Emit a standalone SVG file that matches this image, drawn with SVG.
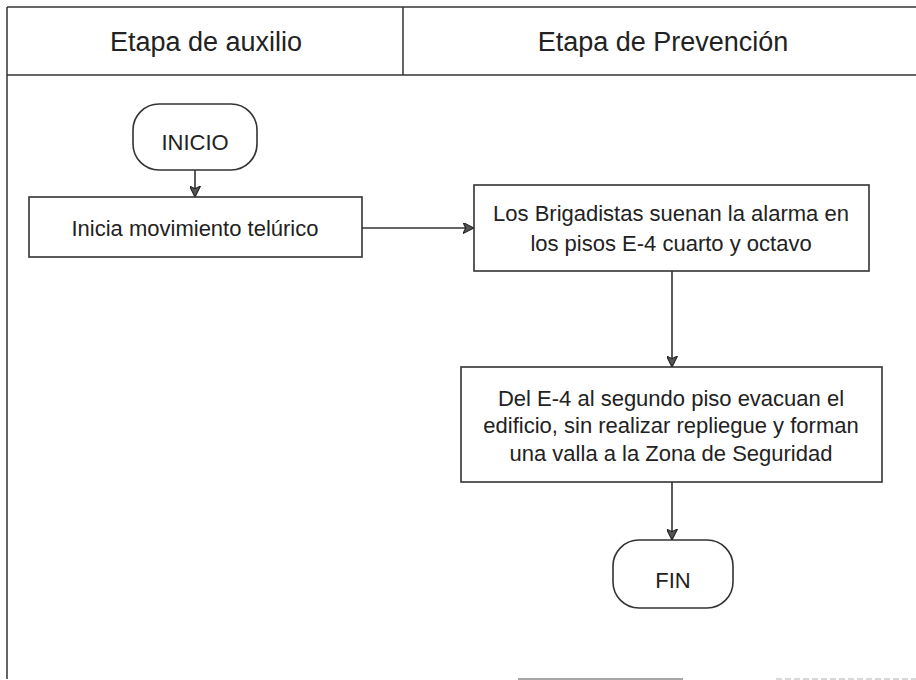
<svg xmlns="http://www.w3.org/2000/svg" width="916" height="680" viewBox="0 0 916 680">
<style>
.frame{stroke:#333;stroke-width:1.5;fill:none}
.box{fill:#fff;stroke:#333;stroke-width:1.6}
.t{font-family:"Liberation Sans",Arial,sans-serif;font-size:22px;fill:#222;text-anchor:middle}
.h{font-family:"Liberation Sans",Arial,sans-serif;font-size:27px;fill:#222;text-anchor:middle}
.conn{stroke:#333;stroke-width:1.6;fill:none}
</style>
<defs>
<marker id="arr" viewBox="0 0 10 10" refX="10" refY="5" markerWidth="11" markerHeight="11" markerUnits="userSpaceOnUse" orient="auto">
<path d="M0,0 L10,5 L0,10 L2.5,5 Z" fill="#555" stroke="#222" stroke-width="1"/>
</marker>
</defs>
<rect width="916" height="680" fill="#fff"/>
<g id="frame">
<line class="frame" x1="7" y1="7" x2="916" y2="7"/>
<line class="frame" x1="7" y1="7" x2="7" y2="679"/>
<line class="frame" x1="7" y1="75" x2="916" y2="75"/>
<line class="frame" x1="403" y1="7" x2="403" y2="75"/>
<line x1="518" y1="679" x2="683" y2="679" stroke="#888" stroke-width="1.5"/>
<line x1="776" y1="679" x2="916" y2="679" stroke="#ccc" stroke-width="1.5" stroke-dasharray="6 3"/>
</g>
<g id="lane-auxilio"><text class="h" x="206" y="51">Etapa de auxilio</text></g>
<g id="lane-prevencion"><text class="h" x="663" y="51">Etapa de Prevención</text></g>
<g id="connectors">
<line class="conn" x1="195" y1="170" x2="195" y2="197" marker-end="url(#arr)"/>
<line class="conn" x1="362" y1="228" x2="474" y2="228" marker-end="url(#arr)"/>
<line class="conn" x1="672" y1="271" x2="672" y2="367" marker-end="url(#arr)"/>
<line class="conn" x1="672" y1="482" x2="672" y2="540" marker-end="url(#arr)"/>
</g>
<g id="inicio">
<rect class="box" x="133" y="104" width="124" height="66" rx="26" ry="26"/>
<text class="t" x="195" y="150">INICIO</text>
</g>
<g id="inicia">
<rect class="box" x="29" y="197" width="333" height="60"/>
<text class="t" x="195" y="236">Inicia movimiento telúrico</text>
</g>
<g id="brigadistas">
<rect class="box" x="474" y="185" width="395" height="86"/>
<text class="t" x="671" y="221">Los Brigadistas suenan la alarma en</text>
<text class="t" x="671" y="251">los pisos E-4 cuarto y octavo</text>
</g>
<g id="evacuan">
<rect class="box" x="461" y="367" width="421" height="115"/>
<text class="t" x="671" y="406">Del E-4 al segundo piso evacuan el</text>
<text class="t" x="671" y="433">edificio, sin realizar repliegue y forman</text>
<text class="t" x="671" y="461">una valla a la Zona de Seguridad</text>
</g>
<g id="fin">
<rect class="box" x="613" y="540" width="120" height="68" rx="26" ry="26"/>
<text class="t" x="673" y="588">FIN</text>
</g>
</svg>
